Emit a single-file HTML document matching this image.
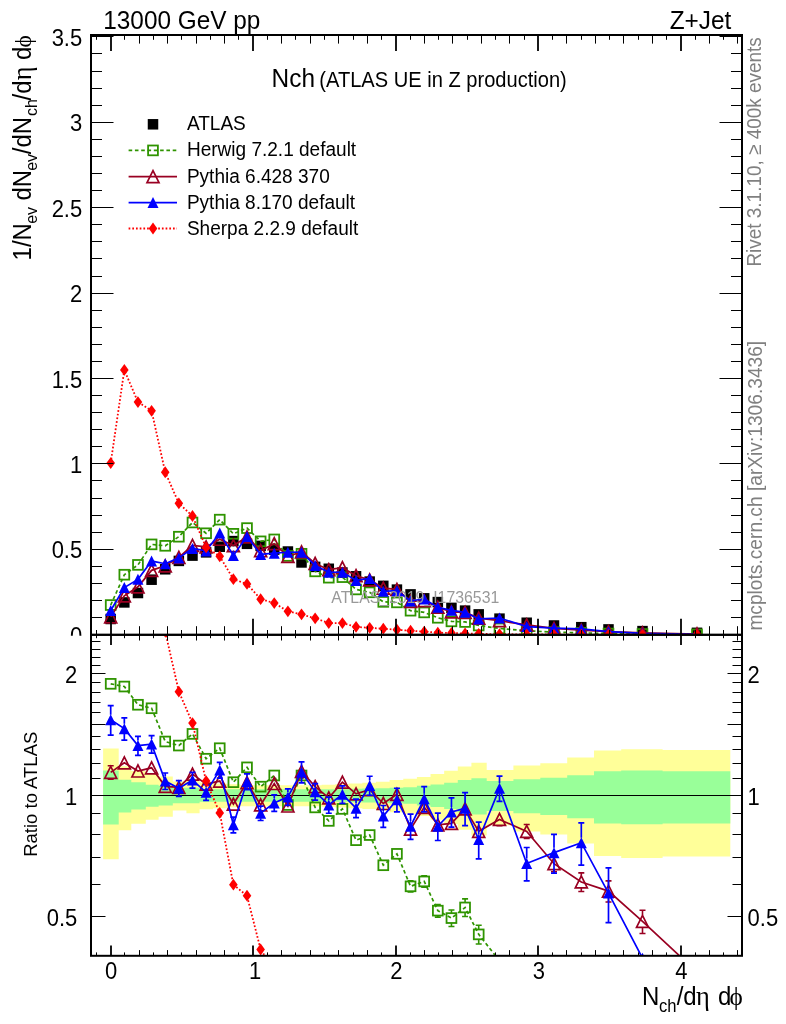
<!DOCTYPE html>
<html><head><meta charset="utf-8"><title>Nch</title>
<style>html,body{margin:0;padding:0;background:#fff}svg{display:block}</style></head>
<body>
<svg width="786" height="1024" viewBox="0 0 786 1024" font-family="Liberation Sans, sans-serif">
<rect width="786" height="1024" fill="#fff"/>
<g style="will-change:transform">
<defs>
<clipPath id="cm"><rect x="91.0" y="35.0" width="651.0" height="600.8"/></clipPath>
<clipPath id="cr"><rect x="91.0" y="634.8" width="651.0" height="321.0"/></clipPath>
<clipPath id="c0"><rect x="0" y="0" width="91.0" height="635.8"/></clipPath>
</defs>
<g clip-path="url(#cm)">
<rect x="105.45" y="613.74" width="10.5" height="10.5" fill="#000"/>
<rect x="119.08" y="597.17" width="10.5" height="10.5" fill="#000"/>
<rect x="132.71" y="587.77" width="10.5" height="10.5" fill="#000"/>
<rect x="146.34" y="574.45" width="10.5" height="10.5" fill="#000"/>
<rect x="159.97" y="564.03" width="10.5" height="10.5" fill="#000"/>
<rect x="173.6" y="555.66" width="10.5" height="10.5" fill="#000"/>
<rect x="187.23" y="550.37" width="10.5" height="10.5" fill="#000"/>
<rect x="200.86" y="547.12" width="10.5" height="10.5" fill="#000"/>
<rect x="214.49" y="541.49" width="10.5" height="10.5" fill="#000"/>
<rect x="228.12" y="535.85" width="10.5" height="10.5" fill="#000"/>
<rect x="241.75" y="538.58" width="10.5" height="10.5" fill="#000"/>
<rect x="255.38" y="540.63" width="10.5" height="10.5" fill="#000"/>
<rect x="269.01" y="544.39" width="10.5" height="10.5" fill="#000"/>
<rect x="282.64" y="546.27" width="10.5" height="10.5" fill="#000"/>
<rect x="296.27" y="557.2" width="10.5" height="10.5" fill="#000"/>
<rect x="309.9" y="561.64" width="10.5" height="10.5" fill="#000"/>
<rect x="323.53" y="563.52" width="10.5" height="10.5" fill="#000"/>
<rect x="337.16" y="567.28" width="10.5" height="10.5" fill="#000"/>
<rect x="350.79" y="571.04" width="10.5" height="10.5" fill="#000"/>
<rect x="364.42" y="576.33" width="10.5" height="10.5" fill="#000"/>
<rect x="378.05" y="580.6" width="10.5" height="10.5" fill="#000"/>
<rect x="391.68" y="584.36" width="10.5" height="10.5" fill="#000"/>
<rect x="405.31" y="589.14" width="10.5" height="10.5" fill="#000"/>
<rect x="418.94" y="593.07" width="10.5" height="10.5" fill="#000"/>
<rect x="432.57" y="596.83" width="10.5" height="10.5" fill="#000"/>
<rect x="446.2" y="602.63" width="10.5" height="10.5" fill="#000"/>
<rect x="459.83" y="605.37" width="10.5" height="10.5" fill="#000"/>
<rect x="473.46" y="609.12" width="10.5" height="10.5" fill="#000"/>
<rect x="494.25" y="613.39" width="10.5" height="10.5" fill="#000"/>
<rect x="521.45" y="617.49" width="10.5" height="10.5" fill="#000"/>
<rect x="548.75" y="620.23" width="10.5" height="10.5" fill="#000"/>
<rect x="576.05" y="621.93" width="10.5" height="10.5" fill="#000"/>
<rect x="603.25" y="624.16" width="10.5" height="10.5" fill="#000"/>
<rect x="637.25" y="625.86" width="10.5" height="10.5" fill="#000"/>
<rect x="691.75" y="627.57" width="10.5" height="10.5" fill="#000"/>
<path d="M110.7 605.05L124.33 574.72L137.96 564.89L151.59 544.39L165.22 545.8L178.85 536.71L192.48 522.48L206.11 533.27L219.74 519.65L233.37 533.8L247 528.11L260.63 541.35L274.26 539.43L287.89 555.93L301.52 553.78L315.15 571.37L328.78 577.67L342.41 577.13L356.04 589.43L369.67 592.31L383.3 601.87L396.93 602.37L410.56 610.68L424.19 612.4L437.82 617.77L451.45 621.36L465.08 621.97L478.71 625.48L499.5 628.44L526.7 630.75L554 632.12L581.3 632.82L608.5 633.54L642.5 633.98L697 634.42" fill="none" stroke="#2f9400" stroke-width="1.7" stroke-dasharray="3.6 2.7"/>
<rect x="105.8" y="600.15" width="9.8" height="9.8" fill="none" stroke="#2f9400" stroke-width="1.8"/>
<rect x="119.43" y="569.82" width="9.8" height="9.8" fill="none" stroke="#2f9400" stroke-width="1.8"/>
<rect x="133.06" y="559.99" width="9.8" height="9.8" fill="none" stroke="#2f9400" stroke-width="1.8"/>
<rect x="146.69" y="539.49" width="9.8" height="9.8" fill="none" stroke="#2f9400" stroke-width="1.8"/>
<rect x="160.32" y="540.9" width="9.8" height="9.8" fill="none" stroke="#2f9400" stroke-width="1.8"/>
<rect x="173.95" y="531.81" width="9.8" height="9.8" fill="none" stroke="#2f9400" stroke-width="1.8"/>
<rect x="187.58" y="517.58" width="9.8" height="9.8" fill="none" stroke="#2f9400" stroke-width="1.8"/>
<rect x="201.21" y="528.37" width="9.8" height="9.8" fill="none" stroke="#2f9400" stroke-width="1.8"/>
<rect x="214.84" y="514.75" width="9.8" height="9.8" fill="none" stroke="#2f9400" stroke-width="1.8"/>
<rect x="228.47" y="528.9" width="9.8" height="9.8" fill="none" stroke="#2f9400" stroke-width="1.8"/>
<rect x="242.1" y="523.21" width="9.8" height="9.8" fill="none" stroke="#2f9400" stroke-width="1.8"/>
<rect x="255.73" y="536.45" width="9.8" height="9.8" fill="none" stroke="#2f9400" stroke-width="1.8"/>
<rect x="269.36" y="534.53" width="9.8" height="9.8" fill="none" stroke="#2f9400" stroke-width="1.8"/>
<rect x="282.99" y="551.03" width="9.8" height="9.8" fill="none" stroke="#2f9400" stroke-width="1.8"/>
<rect x="296.62" y="548.88" width="9.8" height="9.8" fill="none" stroke="#2f9400" stroke-width="1.8"/>
<rect x="310.25" y="566.47" width="9.8" height="9.8" fill="none" stroke="#2f9400" stroke-width="1.8"/>
<rect x="323.88" y="572.77" width="9.8" height="9.8" fill="none" stroke="#2f9400" stroke-width="1.8"/>
<rect x="337.51" y="572.23" width="9.8" height="9.8" fill="none" stroke="#2f9400" stroke-width="1.8"/>
<rect x="351.14" y="584.53" width="9.8" height="9.8" fill="none" stroke="#2f9400" stroke-width="1.8"/>
<rect x="364.77" y="587.41" width="9.8" height="9.8" fill="none" stroke="#2f9400" stroke-width="1.8"/>
<rect x="378.4" y="596.97" width="9.8" height="9.8" fill="none" stroke="#2f9400" stroke-width="1.8"/>
<rect x="392.03" y="597.47" width="9.8" height="9.8" fill="none" stroke="#2f9400" stroke-width="1.8"/>
<rect x="405.66" y="605.78" width="9.8" height="9.8" fill="none" stroke="#2f9400" stroke-width="1.8"/>
<rect x="419.29" y="607.5" width="9.8" height="9.8" fill="none" stroke="#2f9400" stroke-width="1.8"/>
<rect x="432.92" y="612.87" width="9.8" height="9.8" fill="none" stroke="#2f9400" stroke-width="1.8"/>
<rect x="446.55" y="616.46" width="9.8" height="9.8" fill="none" stroke="#2f9400" stroke-width="1.8"/>
<rect x="460.18" y="617.07" width="9.8" height="9.8" fill="none" stroke="#2f9400" stroke-width="1.8"/>
<rect x="473.81" y="620.58" width="9.8" height="9.8" fill="none" stroke="#2f9400" stroke-width="1.8"/>
<rect x="494.6" y="623.54" width="9.8" height="9.8" fill="none" stroke="#2f9400" stroke-width="1.8"/>
<rect x="521.8" y="625.85" width="9.8" height="9.8" fill="none" stroke="#2f9400" stroke-width="1.8"/>
<rect x="549.1" y="627.22" width="9.8" height="9.8" fill="none" stroke="#2f9400" stroke-width="1.8"/>
<rect x="576.4" y="627.92" width="9.8" height="9.8" fill="none" stroke="#2f9400" stroke-width="1.8"/>
<rect x="603.6" y="628.64" width="9.8" height="9.8" fill="none" stroke="#2f9400" stroke-width="1.8"/>
<rect x="637.6" y="629.08" width="9.8" height="9.8" fill="none" stroke="#2f9400" stroke-width="1.8"/>
<rect x="692.1" y="629.52" width="9.8" height="9.8" fill="none" stroke="#2f9400" stroke-width="1.8"/>
<path d="M110.7 616.79L124.33 595.83L137.96 586.82L151.59 570.35L165.22 565.82L178.85 557.45L192.48 545.42L206.11 546.94L219.74 539.26L233.37 545.59L247 536.97L260.63 550.59L274.26 543.69L287.89 556.39L301.52 551.9L315.15 563.43L328.78 569.69L342.41 567.68L356.04 575.76L369.67 579.83L383.3 588.05L396.93 589.34L410.56 601.43L424.19 600.7L437.82 607.12L451.45 611.83L465.08 612.4L478.71 618.13L499.5 620.7L526.7 624.96L554 628.45L581.3 630.11L608.5 631.63L642.5 632.95L697 634.01" fill="none" stroke="#990022" stroke-width="1.7"/>
<path d="M104.7 622.79L116.7 622.79L110.7 610.79Z" fill="none" stroke="#990022" stroke-width="1.7" stroke-linejoin="miter"/>
<path d="M118.33 601.83L130.33 601.83L124.33 589.83Z" fill="none" stroke="#990022" stroke-width="1.7" stroke-linejoin="miter"/>
<path d="M131.96 592.82L143.96 592.82L137.96 580.82Z" fill="none" stroke="#990022" stroke-width="1.7" stroke-linejoin="miter"/>
<path d="M145.59 576.35L157.59 576.35L151.59 564.35Z" fill="none" stroke="#990022" stroke-width="1.7" stroke-linejoin="miter"/>
<path d="M159.22 571.82L171.22 571.82L165.22 559.82Z" fill="none" stroke="#990022" stroke-width="1.7" stroke-linejoin="miter"/>
<path d="M172.85 563.45L184.85 563.45L178.85 551.45Z" fill="none" stroke="#990022" stroke-width="1.7" stroke-linejoin="miter"/>
<path d="M186.48 551.42L198.48 551.42L192.48 539.42Z" fill="none" stroke="#990022" stroke-width="1.7" stroke-linejoin="miter"/>
<path d="M200.11 552.94L212.11 552.94L206.11 540.94Z" fill="none" stroke="#990022" stroke-width="1.7" stroke-linejoin="miter"/>
<path d="M213.74 545.26L225.74 545.26L219.74 533.26Z" fill="none" stroke="#990022" stroke-width="1.7" stroke-linejoin="miter"/>
<path d="M227.37 551.59L239.37 551.59L233.37 539.59Z" fill="none" stroke="#990022" stroke-width="1.7" stroke-linejoin="miter"/>
<path d="M241 542.97L253 542.97L247 530.97Z" fill="none" stroke="#990022" stroke-width="1.7" stroke-linejoin="miter"/>
<path d="M254.63 556.59L266.63 556.59L260.63 544.59Z" fill="none" stroke="#990022" stroke-width="1.7" stroke-linejoin="miter"/>
<path d="M268.26 549.69L280.26 549.69L274.26 537.69Z" fill="none" stroke="#990022" stroke-width="1.7" stroke-linejoin="miter"/>
<path d="M281.89 562.39L293.89 562.39L287.89 550.39Z" fill="none" stroke="#990022" stroke-width="1.7" stroke-linejoin="miter"/>
<path d="M295.52 557.9L307.52 557.9L301.52 545.9Z" fill="none" stroke="#990022" stroke-width="1.7" stroke-linejoin="miter"/>
<path d="M309.15 569.43L321.15 569.43L315.15 557.43Z" fill="none" stroke="#990022" stroke-width="1.7" stroke-linejoin="miter"/>
<path d="M322.78 575.69L334.78 575.69L328.78 563.69Z" fill="none" stroke="#990022" stroke-width="1.7" stroke-linejoin="miter"/>
<path d="M336.41 573.68L348.41 573.68L342.41 561.68Z" fill="none" stroke="#990022" stroke-width="1.7" stroke-linejoin="miter"/>
<path d="M350.04 581.76L362.04 581.76L356.04 569.76Z" fill="none" stroke="#990022" stroke-width="1.7" stroke-linejoin="miter"/>
<path d="M363.67 585.83L375.67 585.83L369.67 573.83Z" fill="none" stroke="#990022" stroke-width="1.7" stroke-linejoin="miter"/>
<path d="M377.3 594.05L389.3 594.05L383.3 582.05Z" fill="none" stroke="#990022" stroke-width="1.7" stroke-linejoin="miter"/>
<path d="M390.93 595.34L402.93 595.34L396.93 583.34Z" fill="none" stroke="#990022" stroke-width="1.7" stroke-linejoin="miter"/>
<path d="M404.56 607.43L416.56 607.43L410.56 595.43Z" fill="none" stroke="#990022" stroke-width="1.7" stroke-linejoin="miter"/>
<path d="M418.19 606.7L430.19 606.7L424.19 594.7Z" fill="none" stroke="#990022" stroke-width="1.7" stroke-linejoin="miter"/>
<path d="M431.82 613.12L443.82 613.12L437.82 601.12Z" fill="none" stroke="#990022" stroke-width="1.7" stroke-linejoin="miter"/>
<path d="M445.45 617.83L457.45 617.83L451.45 605.83Z" fill="none" stroke="#990022" stroke-width="1.7" stroke-linejoin="miter"/>
<path d="M459.08 618.4L471.08 618.4L465.08 606.4Z" fill="none" stroke="#990022" stroke-width="1.7" stroke-linejoin="miter"/>
<path d="M472.71 624.13L484.71 624.13L478.71 612.13Z" fill="none" stroke="#990022" stroke-width="1.7" stroke-linejoin="miter"/>
<path d="M493.5 626.7L505.5 626.7L499.5 614.7Z" fill="none" stroke="#990022" stroke-width="1.7" stroke-linejoin="miter"/>
<path d="M520.7 630.96L532.7 630.96L526.7 618.96Z" fill="none" stroke="#990022" stroke-width="1.7" stroke-linejoin="miter"/>
<path d="M548 634.45L560 634.45L554 622.45Z" fill="none" stroke="#990022" stroke-width="1.7" stroke-linejoin="miter"/>
<path d="M575.3 636.11L587.3 636.11L581.3 624.11Z" fill="none" stroke="#990022" stroke-width="1.7" stroke-linejoin="miter"/>
<path d="M602.5 637.63L614.5 637.63L608.5 625.63Z" fill="none" stroke="#990022" stroke-width="1.7" stroke-linejoin="miter"/>
<path d="M636.5 638.95L648.5 638.95L642.5 626.95Z" fill="none" stroke="#990022" stroke-width="1.7" stroke-linejoin="miter"/>
<path d="M691 640.01L703 640.01L697 628.01Z" fill="none" stroke="#990022" stroke-width="1.7" stroke-linejoin="miter"/>
<path d="M110.7 610.53L124.33 587.5L137.96 579.36L151.59 561.06L165.22 563.72L178.85 557.89L192.48 548.42L206.11 550.89L219.74 533.1L233.37 555.52L247 536.38L260.63 554.41L274.26 553.21L287.89 552.23L301.52 552.19L315.15 565.47L328.78 572.27L342.41 572.16L356.04 580.38L369.67 578.5L383.3 591.27L396.93 590.69L410.56 600.88L424.19 599.01L437.82 607.33L451.45 610.3L465.08 612.33L478.71 618.9L499.5 617.99L526.7 626.58L554 628.04L581.3 628.96L608.5 631.66L642.5 633.28L697 634.23" fill="none" stroke="#0000ff" stroke-width="1.7"/>
<path d="M105.2 616.03L116.2 616.03L110.7 605.03Z" fill="#0000ff"/>
<path d="M118.83 593L129.83 593L124.33 582Z" fill="#0000ff"/>
<path d="M132.46 584.86L143.46 584.86L137.96 573.86Z" fill="#0000ff"/>
<path d="M146.09 566.56L157.09 566.56L151.59 555.56Z" fill="#0000ff"/>
<path d="M159.72 569.22L170.72 569.22L165.22 558.22Z" fill="#0000ff"/>
<path d="M173.35 563.39L184.35 563.39L178.85 552.39Z" fill="#0000ff"/>
<path d="M186.98 553.92L197.98 553.92L192.48 542.92Z" fill="#0000ff"/>
<path d="M200.61 556.39L211.61 556.39L206.11 545.39Z" fill="#0000ff"/>
<path d="M214.24 538.6L225.24 538.6L219.74 527.6Z" fill="#0000ff"/>
<path d="M227.87 561.02L238.87 561.02L233.37 550.02Z" fill="#0000ff"/>
<path d="M241.5 541.88L252.5 541.88L247 530.88Z" fill="#0000ff"/>
<path d="M255.13 559.91L266.13 559.91L260.63 548.91Z" fill="#0000ff"/>
<path d="M268.76 558.71L279.76 558.71L274.26 547.71Z" fill="#0000ff"/>
<path d="M282.39 557.73L293.39 557.73L287.89 546.73Z" fill="#0000ff"/>
<path d="M296.02 557.69L307.02 557.69L301.52 546.69Z" fill="#0000ff"/>
<path d="M309.65 570.97L320.65 570.97L315.15 559.97Z" fill="#0000ff"/>
<path d="M323.28 577.77L334.28 577.77L328.78 566.77Z" fill="#0000ff"/>
<path d="M336.91 577.66L347.91 577.66L342.41 566.66Z" fill="#0000ff"/>
<path d="M350.54 585.88L361.54 585.88L356.04 574.88Z" fill="#0000ff"/>
<path d="M364.17 584L375.17 584L369.67 573Z" fill="#0000ff"/>
<path d="M377.8 596.77L388.8 596.77L383.3 585.77Z" fill="#0000ff"/>
<path d="M391.43 596.19L402.43 596.19L396.93 585.19Z" fill="#0000ff"/>
<path d="M405.06 606.38L416.06 606.38L410.56 595.38Z" fill="#0000ff"/>
<path d="M418.69 604.51L429.69 604.51L424.19 593.51Z" fill="#0000ff"/>
<path d="M432.32 612.83L443.32 612.83L437.82 601.83Z" fill="#0000ff"/>
<path d="M445.95 615.8L456.95 615.8L451.45 604.8Z" fill="#0000ff"/>
<path d="M459.58 617.83L470.58 617.83L465.08 606.83Z" fill="#0000ff"/>
<path d="M473.21 624.4L484.21 624.4L478.71 613.4Z" fill="#0000ff"/>
<path d="M494 623.49L505 623.49L499.5 612.49Z" fill="#0000ff"/>
<path d="M521.2 632.08L532.2 632.08L526.7 621.08Z" fill="#0000ff"/>
<path d="M548.5 633.54L559.5 633.54L554 622.54Z" fill="#0000ff"/>
<path d="M575.8 634.46L586.8 634.46L581.3 623.46Z" fill="#0000ff"/>
<path d="M603 637.16L614 637.16L608.5 626.16Z" fill="#0000ff"/>
<path d="M637 638.78L648 638.78L642.5 627.78Z" fill="#0000ff"/>
<path d="M691.5 639.73L702.5 639.73L697 628.73Z" fill="#0000ff"/>
<path d="M110.7 463.05L124.33 369.96L137.96 402.07L151.59 410.78L165.22 472.27L178.85 503.35L192.48 515.99L206.11 547.42L219.74 556.3L233.37 579.19L247 583.97L260.63 599.17L274.26 603.1L287.89 611.3L301.52 614.37L315.15 618.3L328.78 623.09L342.41 623.09L356.04 626.84L369.67 627.87L383.3 628.72L396.93 629.75L410.56 630.77L424.19 631.63L437.82 632.65L451.45 632.99L465.08 633.5L478.71 633.85L499.5 634.19L526.7 634.36L554 634.53L581.3 634.53L608.5 634.61L642.5 634.61L697 634.65" fill="none" stroke="#ff0000" stroke-width="1.8" stroke-dasharray="1.7 2.0"/>
<path d="M110.7 457.15L115 463.05L110.7 468.95L106.4 463.05Z" fill="#ff0000"/>
<path d="M124.33 364.06L128.63 369.96L124.33 375.86L120.03 369.96Z" fill="#ff0000"/>
<path d="M137.96 396.17L142.26 402.07L137.96 407.97L133.66 402.07Z" fill="#ff0000"/>
<path d="M151.59 404.88L155.89 410.78L151.59 416.68L147.29 410.78Z" fill="#ff0000"/>
<path d="M165.22 466.37L169.52 472.27L165.22 478.17L160.92 472.27Z" fill="#ff0000"/>
<path d="M178.85 497.45L183.15 503.35L178.85 509.25L174.55 503.35Z" fill="#ff0000"/>
<path d="M192.48 510.09L196.78 515.99L192.48 521.89L188.18 515.99Z" fill="#ff0000"/>
<path d="M206.11 541.52L210.41 547.42L206.11 553.32L201.81 547.42Z" fill="#ff0000"/>
<path d="M219.74 550.4L224.04 556.3L219.74 562.2L215.44 556.3Z" fill="#ff0000"/>
<path d="M233.37 573.29L237.67 579.19L233.37 585.09L229.07 579.19Z" fill="#ff0000"/>
<path d="M247 578.07L251.3 583.97L247 589.87L242.7 583.97Z" fill="#ff0000"/>
<path d="M260.63 593.27L264.93 599.17L260.63 605.07L256.33 599.17Z" fill="#ff0000"/>
<path d="M274.26 597.2L278.56 603.1L274.26 609L269.96 603.1Z" fill="#ff0000"/>
<path d="M287.89 605.4L292.19 611.3L287.89 617.2L283.59 611.3Z" fill="#ff0000"/>
<path d="M301.52 608.47L305.82 614.37L301.52 620.27L297.22 614.37Z" fill="#ff0000"/>
<path d="M315.15 612.4L319.45 618.3L315.15 624.2L310.85 618.3Z" fill="#ff0000"/>
<path d="M328.78 617.19L333.08 623.09L328.78 628.99L324.48 623.09Z" fill="#ff0000"/>
<path d="M342.41 617.19L346.71 623.09L342.41 628.99L338.11 623.09Z" fill="#ff0000"/>
<path d="M356.04 620.94L360.34 626.84L356.04 632.74L351.74 626.84Z" fill="#ff0000"/>
<path d="M369.67 621.97L373.97 627.87L369.67 633.77L365.37 627.87Z" fill="#ff0000"/>
<path d="M383.3 622.82L387.6 628.72L383.3 634.62L379 628.72Z" fill="#ff0000"/>
<path d="M396.93 623.85L401.23 629.75L396.93 635.65L392.63 629.75Z" fill="#ff0000"/>
<path d="M410.56 624.87L414.86 630.77L410.56 636.67L406.26 630.77Z" fill="#ff0000"/>
<path d="M424.19 625.73L428.49 631.63L424.19 637.53L419.89 631.63Z" fill="#ff0000"/>
<path d="M437.82 626.75L442.12 632.65L437.82 638.55L433.52 632.65Z" fill="#ff0000"/>
<path d="M451.45 627.09L455.75 632.99L451.45 638.89L447.15 632.99Z" fill="#ff0000"/>
<path d="M465.08 627.6L469.38 633.5L465.08 639.4L460.78 633.5Z" fill="#ff0000"/>
<path d="M478.71 627.95L483.01 633.85L478.71 639.75L474.41 633.85Z" fill="#ff0000"/>
<path d="M499.5 628.29L503.8 634.19L499.5 640.09L495.2 634.19Z" fill="#ff0000"/>
<path d="M526.7 628.46L531 634.36L526.7 640.26L522.4 634.36Z" fill="#ff0000"/>
<path d="M554 628.63L558.3 634.53L554 640.43L549.7 634.53Z" fill="#ff0000"/>
<path d="M581.3 628.63L585.6 634.53L581.3 640.43L577 634.53Z" fill="#ff0000"/>
<path d="M608.5 628.71L612.8 634.61L608.5 640.51L604.2 634.61Z" fill="#ff0000"/>
<path d="M642.5 628.71L646.8 634.61L642.5 640.51L638.2 634.61Z" fill="#ff0000"/>
<path d="M697 628.75L701.3 634.65L697 640.55L692.7 634.65Z" fill="#ff0000"/>
</g>
<text transform="translate(331.3 603.2) scale(1 1.06)" font-size="15.85" fill="#999">ATLAS_2019_I1736531</text>
<path d="M91 634.5L113.5 634.5" stroke="#000" stroke-width="1" fill="none"/>
<path d="M742 634.5L719.5 634.5" stroke="#000" stroke-width="1" fill="none"/>
<path d="M91 617.5L102 617.5" stroke="#000" stroke-width="1" fill="none"/>
<path d="M742 617.5L731 617.5" stroke="#000" stroke-width="1" fill="none"/>
<path d="M91 600.5L102 600.5" stroke="#000" stroke-width="1" fill="none"/>
<path d="M742 600.5L731 600.5" stroke="#000" stroke-width="1" fill="none"/>
<path d="M91 583.5L102 583.5" stroke="#000" stroke-width="1" fill="none"/>
<path d="M742 583.5L731 583.5" stroke="#000" stroke-width="1" fill="none"/>
<path d="M91 566.5L102 566.5" stroke="#000" stroke-width="1" fill="none"/>
<path d="M742 566.5L731 566.5" stroke="#000" stroke-width="1" fill="none"/>
<path d="M91 549.5L113.5 549.5" stroke="#000" stroke-width="1" fill="none"/>
<path d="M742 549.5L719.5 549.5" stroke="#000" stroke-width="1" fill="none"/>
<path d="M91 532.5L102 532.5" stroke="#000" stroke-width="1" fill="none"/>
<path d="M742 532.5L731 532.5" stroke="#000" stroke-width="1" fill="none"/>
<path d="M91 515.5L102 515.5" stroke="#000" stroke-width="1" fill="none"/>
<path d="M742 515.5L731 515.5" stroke="#000" stroke-width="1" fill="none"/>
<path d="M91 498.5L102 498.5" stroke="#000" stroke-width="1" fill="none"/>
<path d="M742 498.5L731 498.5" stroke="#000" stroke-width="1" fill="none"/>
<path d="M91 480.5L102 480.5" stroke="#000" stroke-width="1" fill="none"/>
<path d="M742 480.5L731 480.5" stroke="#000" stroke-width="1" fill="none"/>
<path d="M91 463.5L113.5 463.5" stroke="#000" stroke-width="1" fill="none"/>
<path d="M742 463.5L719.5 463.5" stroke="#000" stroke-width="1" fill="none"/>
<path d="M91 446.5L102 446.5" stroke="#000" stroke-width="1" fill="none"/>
<path d="M742 446.5L731 446.5" stroke="#000" stroke-width="1" fill="none"/>
<path d="M91 429.5L102 429.5" stroke="#000" stroke-width="1" fill="none"/>
<path d="M742 429.5L731 429.5" stroke="#000" stroke-width="1" fill="none"/>
<path d="M91 412.5L102 412.5" stroke="#000" stroke-width="1" fill="none"/>
<path d="M742 412.5L731 412.5" stroke="#000" stroke-width="1" fill="none"/>
<path d="M91 395.5L102 395.5" stroke="#000" stroke-width="1" fill="none"/>
<path d="M742 395.5L731 395.5" stroke="#000" stroke-width="1" fill="none"/>
<path d="M91 378.5L113.5 378.5" stroke="#000" stroke-width="1" fill="none"/>
<path d="M742 378.5L719.5 378.5" stroke="#000" stroke-width="1" fill="none"/>
<path d="M91 361.5L102 361.5" stroke="#000" stroke-width="1" fill="none"/>
<path d="M742 361.5L731 361.5" stroke="#000" stroke-width="1" fill="none"/>
<path d="M91 344.5L102 344.5" stroke="#000" stroke-width="1" fill="none"/>
<path d="M742 344.5L731 344.5" stroke="#000" stroke-width="1" fill="none"/>
<path d="M91 327.5L102 327.5" stroke="#000" stroke-width="1" fill="none"/>
<path d="M742 327.5L731 327.5" stroke="#000" stroke-width="1" fill="none"/>
<path d="M91 310.5L102 310.5" stroke="#000" stroke-width="1" fill="none"/>
<path d="M742 310.5L731 310.5" stroke="#000" stroke-width="1" fill="none"/>
<path d="M91 293.5L113.5 293.5" stroke="#000" stroke-width="1" fill="none"/>
<path d="M742 293.5L719.5 293.5" stroke="#000" stroke-width="1" fill="none"/>
<path d="M91 276.5L102 276.5" stroke="#000" stroke-width="1" fill="none"/>
<path d="M742 276.5L731 276.5" stroke="#000" stroke-width="1" fill="none"/>
<path d="M91 258.5L102 258.5" stroke="#000" stroke-width="1" fill="none"/>
<path d="M742 258.5L731 258.5" stroke="#000" stroke-width="1" fill="none"/>
<path d="M91 241.5L102 241.5" stroke="#000" stroke-width="1" fill="none"/>
<path d="M742 241.5L731 241.5" stroke="#000" stroke-width="1" fill="none"/>
<path d="M91 224.5L102 224.5" stroke="#000" stroke-width="1" fill="none"/>
<path d="M742 224.5L731 224.5" stroke="#000" stroke-width="1" fill="none"/>
<path d="M91 207.5L113.5 207.5" stroke="#000" stroke-width="1" fill="none"/>
<path d="M742 207.5L719.5 207.5" stroke="#000" stroke-width="1" fill="none"/>
<path d="M91 190.5L102 190.5" stroke="#000" stroke-width="1" fill="none"/>
<path d="M742 190.5L731 190.5" stroke="#000" stroke-width="1" fill="none"/>
<path d="M91 173.5L102 173.5" stroke="#000" stroke-width="1" fill="none"/>
<path d="M742 173.5L731 173.5" stroke="#000" stroke-width="1" fill="none"/>
<path d="M91 156.5L102 156.5" stroke="#000" stroke-width="1" fill="none"/>
<path d="M742 156.5L731 156.5" stroke="#000" stroke-width="1" fill="none"/>
<path d="M91 139.5L102 139.5" stroke="#000" stroke-width="1" fill="none"/>
<path d="M742 139.5L731 139.5" stroke="#000" stroke-width="1" fill="none"/>
<path d="M91 122.5L113.5 122.5" stroke="#000" stroke-width="1" fill="none"/>
<path d="M742 122.5L719.5 122.5" stroke="#000" stroke-width="1" fill="none"/>
<path d="M91 105.5L102 105.5" stroke="#000" stroke-width="1" fill="none"/>
<path d="M742 105.5L731 105.5" stroke="#000" stroke-width="1" fill="none"/>
<path d="M91 88.5L102 88.5" stroke="#000" stroke-width="1" fill="none"/>
<path d="M742 88.5L731 88.5" stroke="#000" stroke-width="1" fill="none"/>
<path d="M91 71.5L102 71.5" stroke="#000" stroke-width="1" fill="none"/>
<path d="M742 71.5L731 71.5" stroke="#000" stroke-width="1" fill="none"/>
<path d="M91 53.5L102 53.5" stroke="#000" stroke-width="1" fill="none"/>
<path d="M742 53.5L731 53.5" stroke="#000" stroke-width="1" fill="none"/>
<path d="M91 36.5L113.5 36.5" stroke="#000" stroke-width="1" fill="none"/>
<path d="M742 36.5L719.5 36.5" stroke="#000" stroke-width="1" fill="none"/>
<path d="M96.5 35L96.5 39.8" stroke="#000" stroke-width="1" fill="none"/>
<path d="M96.5 634.8L96.5 630" stroke="#000" stroke-width="1" fill="none"/>
<path d="M111 35L111 51" stroke="#000" stroke-width="1.8" fill="none"/>
<path d="M111 634.8L111 618.8" stroke="#000" stroke-width="1.8" fill="none"/>
<path d="M124.5 35L124.5 39.8" stroke="#000" stroke-width="1" fill="none"/>
<path d="M124.5 634.8L124.5 630" stroke="#000" stroke-width="1" fill="none"/>
<path d="M139.5 35L139.5 43.6" stroke="#000" stroke-width="1" fill="none"/>
<path d="M139.5 634.8L139.5 626.2" stroke="#000" stroke-width="1" fill="none"/>
<path d="M153.5 35L153.5 39.8" stroke="#000" stroke-width="1" fill="none"/>
<path d="M153.5 634.8L153.5 630" stroke="#000" stroke-width="1" fill="none"/>
<path d="M167.5 35L167.5 43.6" stroke="#000" stroke-width="1" fill="none"/>
<path d="M167.5 634.8L167.5 626.2" stroke="#000" stroke-width="1" fill="none"/>
<path d="M181.5 35L181.5 39.8" stroke="#000" stroke-width="1" fill="none"/>
<path d="M181.5 634.8L181.5 630" stroke="#000" stroke-width="1" fill="none"/>
<path d="M196.5 35L196.5 43.6" stroke="#000" stroke-width="1" fill="none"/>
<path d="M196.5 634.8L196.5 626.2" stroke="#000" stroke-width="1" fill="none"/>
<path d="M210.5 35L210.5 39.8" stroke="#000" stroke-width="1" fill="none"/>
<path d="M210.5 634.8L210.5 630" stroke="#000" stroke-width="1" fill="none"/>
<path d="M224.5 35L224.5 43.6" stroke="#000" stroke-width="1" fill="none"/>
<path d="M224.5 634.8L224.5 626.2" stroke="#000" stroke-width="1" fill="none"/>
<path d="M238.5 35L238.5 39.8" stroke="#000" stroke-width="1" fill="none"/>
<path d="M238.5 634.8L238.5 630" stroke="#000" stroke-width="1" fill="none"/>
<path d="M253 35L253 51" stroke="#000" stroke-width="1.8" fill="none"/>
<path d="M253 634.8L253 618.8" stroke="#000" stroke-width="1.8" fill="none"/>
<path d="M267.5 35L267.5 39.8" stroke="#000" stroke-width="1" fill="none"/>
<path d="M267.5 634.8L267.5 630" stroke="#000" stroke-width="1" fill="none"/>
<path d="M281.5 35L281.5 43.6" stroke="#000" stroke-width="1" fill="none"/>
<path d="M281.5 634.8L281.5 626.2" stroke="#000" stroke-width="1" fill="none"/>
<path d="M295.5 35L295.5 39.8" stroke="#000" stroke-width="1" fill="none"/>
<path d="M295.5 634.8L295.5 630" stroke="#000" stroke-width="1" fill="none"/>
<path d="M310.5 35L310.5 43.6" stroke="#000" stroke-width="1" fill="none"/>
<path d="M310.5 634.8L310.5 626.2" stroke="#000" stroke-width="1" fill="none"/>
<path d="M324.5 35L324.5 39.8" stroke="#000" stroke-width="1" fill="none"/>
<path d="M324.5 634.8L324.5 630" stroke="#000" stroke-width="1" fill="none"/>
<path d="M338.5 35L338.5 43.6" stroke="#000" stroke-width="1" fill="none"/>
<path d="M338.5 634.8L338.5 626.2" stroke="#000" stroke-width="1" fill="none"/>
<path d="M353.5 35L353.5 39.8" stroke="#000" stroke-width="1" fill="none"/>
<path d="M353.5 634.8L353.5 630" stroke="#000" stroke-width="1" fill="none"/>
<path d="M367.5 35L367.5 43.6" stroke="#000" stroke-width="1" fill="none"/>
<path d="M367.5 634.8L367.5 626.2" stroke="#000" stroke-width="1" fill="none"/>
<path d="M381.5 35L381.5 39.8" stroke="#000" stroke-width="1" fill="none"/>
<path d="M381.5 634.8L381.5 630" stroke="#000" stroke-width="1" fill="none"/>
<path d="M396 35L396 51" stroke="#000" stroke-width="1.8" fill="none"/>
<path d="M396 634.8L396 618.8" stroke="#000" stroke-width="1.8" fill="none"/>
<path d="M410.5 35L410.5 39.8" stroke="#000" stroke-width="1" fill="none"/>
<path d="M410.5 634.8L410.5 630" stroke="#000" stroke-width="1" fill="none"/>
<path d="M424.5 35L424.5 43.6" stroke="#000" stroke-width="1" fill="none"/>
<path d="M424.5 634.8L424.5 626.2" stroke="#000" stroke-width="1" fill="none"/>
<path d="M438.5 35L438.5 39.8" stroke="#000" stroke-width="1" fill="none"/>
<path d="M438.5 634.8L438.5 630" stroke="#000" stroke-width="1" fill="none"/>
<path d="M452.5 35L452.5 43.6" stroke="#000" stroke-width="1" fill="none"/>
<path d="M452.5 634.8L452.5 626.2" stroke="#000" stroke-width="1" fill="none"/>
<path d="M467.5 35L467.5 39.8" stroke="#000" stroke-width="1" fill="none"/>
<path d="M467.5 634.8L467.5 630" stroke="#000" stroke-width="1" fill="none"/>
<path d="M481.5 35L481.5 43.6" stroke="#000" stroke-width="1" fill="none"/>
<path d="M481.5 634.8L481.5 626.2" stroke="#000" stroke-width="1" fill="none"/>
<path d="M495.5 35L495.5 39.8" stroke="#000" stroke-width="1" fill="none"/>
<path d="M495.5 634.8L495.5 630" stroke="#000" stroke-width="1" fill="none"/>
<path d="M509.5 35L509.5 43.6" stroke="#000" stroke-width="1" fill="none"/>
<path d="M509.5 634.8L509.5 626.2" stroke="#000" stroke-width="1" fill="none"/>
<path d="M524.5 35L524.5 39.8" stroke="#000" stroke-width="1" fill="none"/>
<path d="M524.5 634.8L524.5 630" stroke="#000" stroke-width="1" fill="none"/>
<path d="M538 35L538 51" stroke="#000" stroke-width="1.8" fill="none"/>
<path d="M538 634.8L538 618.8" stroke="#000" stroke-width="1.8" fill="none"/>
<path d="M552.5 35L552.5 39.8" stroke="#000" stroke-width="1" fill="none"/>
<path d="M552.5 634.8L552.5 630" stroke="#000" stroke-width="1" fill="none"/>
<path d="M566.5 35L566.5 43.6" stroke="#000" stroke-width="1" fill="none"/>
<path d="M566.5 634.8L566.5 626.2" stroke="#000" stroke-width="1" fill="none"/>
<path d="M581.5 35L581.5 39.8" stroke="#000" stroke-width="1" fill="none"/>
<path d="M581.5 634.8L581.5 630" stroke="#000" stroke-width="1" fill="none"/>
<path d="M595.5 35L595.5 43.6" stroke="#000" stroke-width="1" fill="none"/>
<path d="M595.5 634.8L595.5 626.2" stroke="#000" stroke-width="1" fill="none"/>
<path d="M609.5 35L609.5 39.8" stroke="#000" stroke-width="1" fill="none"/>
<path d="M609.5 634.8L609.5 630" stroke="#000" stroke-width="1" fill="none"/>
<path d="M623.5 35L623.5 43.6" stroke="#000" stroke-width="1" fill="none"/>
<path d="M623.5 634.8L623.5 626.2" stroke="#000" stroke-width="1" fill="none"/>
<path d="M638.5 35L638.5 39.8" stroke="#000" stroke-width="1" fill="none"/>
<path d="M638.5 634.8L638.5 630" stroke="#000" stroke-width="1" fill="none"/>
<path d="M652.5 35L652.5 43.6" stroke="#000" stroke-width="1" fill="none"/>
<path d="M652.5 634.8L652.5 626.2" stroke="#000" stroke-width="1" fill="none"/>
<path d="M666.5 35L666.5 39.8" stroke="#000" stroke-width="1" fill="none"/>
<path d="M666.5 634.8L666.5 630" stroke="#000" stroke-width="1" fill="none"/>
<path d="M681 35L681 51" stroke="#000" stroke-width="1.8" fill="none"/>
<path d="M681 634.8L681 618.8" stroke="#000" stroke-width="1.8" fill="none"/>
<path d="M695.5 35L695.5 39.8" stroke="#000" stroke-width="1" fill="none"/>
<path d="M695.5 634.8L695.5 630" stroke="#000" stroke-width="1" fill="none"/>
<path d="M709.5 35L709.5 43.6" stroke="#000" stroke-width="1" fill="none"/>
<path d="M709.5 634.8L709.5 626.2" stroke="#000" stroke-width="1" fill="none"/>
<path d="M723.5 35L723.5 39.8" stroke="#000" stroke-width="1" fill="none"/>
<path d="M723.5 634.8L723.5 630" stroke="#000" stroke-width="1" fill="none"/>
<path d="M737.5 35L737.5 43.6" stroke="#000" stroke-width="1" fill="none"/>
<path d="M737.5 634.8L737.5 626.2" stroke="#000" stroke-width="1" fill="none"/>
<rect x="0" y="635.8" width="786" height="388.20000000000005" fill="#fff"/>
<g clip-path="url(#cr)">
<path d="M103.1 748.62L118.7 748.62L118.7 766.32L131.3 766.32L131.3 770.99L145.8 770.99L145.8 774.08L158.6 774.08L158.6 776.43L172.8 776.43L172.8 781.55L186.4 781.55L186.4 779.13L199.6 779.13L199.6 782.61L213.1 782.61L213.1 783.51L226.77 783.51L226.77 784.33L240.32 784.33L240.32 785.16L253.87 785.16L253.87 785.16L267.43 785.16L267.43 785.16L280.98 785.16L280.98 785.16L294.53 785.16L294.53 785.16L308.08 785.16L308.08 785.16L321.64 785.16L321.64 784.66L335.19 784.66L335.19 784.17L348.74 784.17L348.74 783.51L362.37 783.51L362.37 782.69L376 782.69L376 781.71L389.63 781.71L389.63 780.1L403.26 780.1L403.26 778.81L416.89 778.81L416.89 776.9L430.52 776.9L430.52 774.08L444.15 774.08L444.15 770.84L457.78 770.84L457.78 766.61L471.41 766.61L471.41 762.78L486.7 762.78L486.7 769.93L513.4 769.93L513.4 765.42L540.3 765.42L540.3 763.36L567.2 763.36L567.2 757.6L594 757.6L594 750.38L621.2 750.38L621.2 749.3L662.6 749.3L662.6 750.11L730.3 750.11L730.3 856.58L662.6 856.58L662.6 858.08L621.2 858.08L621.2 856.08L594 856.08L594 843.62L567.2 843.62L567.2 834.61L540.3 834.61L540.3 831.56L513.4 831.56L513.4 825.2L486.7 825.2L486.7 835.49L471.41 835.49L471.41 829.84L457.78 829.84L457.78 823.96L444.15 823.96L444.15 819.67L430.52 819.67L430.52 816.07L416.89 816.07L416.89 813.72L403.26 813.72L403.26 812.17L389.63 812.17L389.63 810.24L376 810.24L376 809.1L362.37 809.1L362.37 808.15L348.74 808.15L348.74 807.4L335.19 807.4L335.19 806.83L321.64 806.83L321.64 806.27L308.08 806.27L308.08 806.27L294.53 806.27L294.53 806.27L280.98 806.27L280.98 806.27L267.43 806.27L267.43 806.27L253.87 806.27L253.87 806.27L240.32 806.27L240.32 807.21L226.77 807.21L226.77 808.15L213.1 808.15L213.1 809.19L199.6 809.19L199.6 813.33L186.4 813.33L186.4 810.43L172.8 810.43L172.8 816.67L158.6 816.67L158.6 819.67L145.8 819.67L145.8 823.75L131.3 823.75L131.3 830.27L118.7 830.27L118.7 859.33L103.1 859.33Z" fill="#ffff99"/>
<path d="M103.1 770.38L118.7 770.38L118.7 779.77L131.3 779.77L131.3 782.27L145.8 782.27L145.8 784.66L158.6 784.66L158.6 785.83L172.8 785.83L172.8 787.83L186.4 787.83L186.4 787.83L199.6 787.83L199.6 789.19L213.1 789.19L213.1 789.35L226.77 789.35L226.77 789.35L240.32 789.35L240.32 789.35L253.87 789.35L253.87 789.35L267.43 789.35L267.43 789.35L280.98 789.35L280.98 789.35L294.53 789.35L294.53 789.35L308.08 789.35L308.08 789.35L321.64 789.35L321.64 789.35L335.19 789.35L335.19 789.35L348.74 789.35L348.74 788.85L362.37 788.85L362.37 788.51L376 788.51L376 788.17L389.63 788.17L389.63 787.83L403.26 787.83L403.26 787.33L416.89 787.33L416.89 785.83L430.52 785.83L430.52 784.5L444.15 784.5L444.15 782.69L457.78 782.69L457.78 780.1L471.41 780.1L471.41 778.17L486.7 778.17L486.7 781.06L513.4 781.06L513.4 779.13L540.3 779.13L540.3 777.86L567.2 777.86L567.2 775.17L594 775.17L594 771.15L621.2 771.15L621.2 770.54L662.6 770.54L662.6 771.15L730.3 771.15L730.3 823.54L662.6 823.54L662.6 824.37L621.2 824.37L621.2 823.54L594 823.54L594 818.26L567.2 818.26L567.2 814.89L540.3 814.89L540.3 813.33L513.4 813.33L513.4 811.01L486.7 811.01L486.7 814.5L471.41 814.5L471.41 812.17L457.78 812.17L457.78 809.1L444.15 809.1L444.15 807.02L430.52 807.02L430.52 805.53L416.89 805.53L416.89 803.86L403.26 803.86L403.26 803.31L389.63 803.31L389.63 802.94L376 802.94L376 802.57L362.37 802.57L362.37 802.21L348.74 802.21L348.74 801.66L335.19 801.66L335.19 801.66L321.64 801.66L321.64 801.66L308.08 801.66L308.08 801.66L294.53 801.66L294.53 801.66L280.98 801.66L280.98 801.66L267.43 801.66L267.43 801.66L253.87 801.66L253.87 801.66L240.32 801.66L240.32 801.66L226.77 801.66L226.77 801.66L213.1 801.66L213.1 801.84L199.6 801.84L199.6 803.31L186.4 803.31L186.4 803.31L172.8 803.31L172.8 805.53L158.6 805.53L158.6 806.83L145.8 806.83L145.8 809.59L131.3 809.59L131.3 812.55L118.7 812.55L118.7 824.58L103.1 824.58Z" fill="#99ff99"/>
<path d="M91 795.5L742 795.5" stroke="#000" stroke-width="1" fill="none"/>
<path d="M110.7 683.82L124.33 686.54L137.96 704.76L151.59 708.26L165.22 741.5L178.85 745.55L192.48 733.91L206.11 758.74L219.74 748.22L233.37 782.2L247 767.36L260.63 786.66L274.26 775.49L287.89 804.97L301.52 775.49L315.15 807.4L328.78 820.88L342.41 808.91L356.04 840.19L369.67 835.05L383.3 865.25L396.93 853.86L410.56 886.34L424.19 881.4L437.82 910.65L451.45 918.08L465.08 907.46L478.71 934.39L499.5 960.86L526.7 990.21L554 1019.09L581.3 1039L608.5 1061.46L642.5 1078.21L697 1128.76" fill="none" stroke="#2f9400" stroke-width="1.7" stroke-dasharray="3.6 2.7"/>

<rect x="105.8" y="678.92" width="9.8" height="9.8" fill="none" stroke="#2f9400" stroke-width="1.8"/>

<rect x="119.43" y="681.64" width="9.8" height="9.8" fill="none" stroke="#2f9400" stroke-width="1.8"/>

<rect x="133.06" y="699.86" width="9.8" height="9.8" fill="none" stroke="#2f9400" stroke-width="1.8"/>

<rect x="146.69" y="703.36" width="9.8" height="9.8" fill="none" stroke="#2f9400" stroke-width="1.8"/>

<rect x="160.32" y="736.6" width="9.8" height="9.8" fill="none" stroke="#2f9400" stroke-width="1.8"/>

<rect x="173.95" y="740.65" width="9.8" height="9.8" fill="none" stroke="#2f9400" stroke-width="1.8"/>

<rect x="187.58" y="729.01" width="9.8" height="9.8" fill="none" stroke="#2f9400" stroke-width="1.8"/>

<rect x="201.21" y="753.84" width="9.8" height="9.8" fill="none" stroke="#2f9400" stroke-width="1.8"/>

<rect x="214.84" y="743.32" width="9.8" height="9.8" fill="none" stroke="#2f9400" stroke-width="1.8"/>

<rect x="228.47" y="777.3" width="9.8" height="9.8" fill="none" stroke="#2f9400" stroke-width="1.8"/>

<rect x="242.1" y="762.46" width="9.8" height="9.8" fill="none" stroke="#2f9400" stroke-width="1.8"/>

<rect x="255.73" y="781.76" width="9.8" height="9.8" fill="none" stroke="#2f9400" stroke-width="1.8"/>

<rect x="269.36" y="770.59" width="9.8" height="9.8" fill="none" stroke="#2f9400" stroke-width="1.8"/>

<rect x="282.99" y="800.07" width="9.8" height="9.8" fill="none" stroke="#2f9400" stroke-width="1.8"/>

<rect x="296.62" y="770.59" width="9.8" height="9.8" fill="none" stroke="#2f9400" stroke-width="1.8"/>

<rect x="310.25" y="802.5" width="9.8" height="9.8" fill="none" stroke="#2f9400" stroke-width="1.8"/>

<rect x="323.88" y="815.98" width="9.8" height="9.8" fill="none" stroke="#2f9400" stroke-width="1.8"/>

<rect x="337.51" y="804.01" width="9.8" height="9.8" fill="none" stroke="#2f9400" stroke-width="1.8"/>

<rect x="351.14" y="835.29" width="9.8" height="9.8" fill="none" stroke="#2f9400" stroke-width="1.8"/>

<rect x="364.77" y="830.15" width="9.8" height="9.8" fill="none" stroke="#2f9400" stroke-width="1.8"/>

<rect x="378.4" y="860.35" width="9.8" height="9.8" fill="none" stroke="#2f9400" stroke-width="1.8"/>

<rect x="392.03" y="848.96" width="9.8" height="9.8" fill="none" stroke="#2f9400" stroke-width="1.8"/>
<path d="M410.56 881.34V880.8M407.56 880.8H413.56M410.56 891.34V892.05M407.56 892.05H413.56" fill="none" stroke="#2f9400" stroke-width="1.6"/>
<rect x="405.66" y="881.44" width="9.8" height="9.8" fill="none" stroke="#2f9400" stroke-width="1.8"/>
<path d="M424.19 876.4V875.69M421.19 875.69H427.19M424.19 886.4V887.29M421.19 887.29H427.19" fill="none" stroke="#2f9400" stroke-width="1.6"/>
<rect x="419.29" y="876.5" width="9.8" height="9.8" fill="none" stroke="#2f9400" stroke-width="1.8"/>
<path d="M437.82 905.65V904.43M434.82 904.43H440.82M437.82 915.65V917.09M434.82 917.09H440.82" fill="none" stroke="#2f9400" stroke-width="1.6"/>
<rect x="432.92" y="905.75" width="9.8" height="9.8" fill="none" stroke="#2f9400" stroke-width="1.8"/>
<path d="M451.45 913.08V910.01M448.45 910.01H454.45M451.45 923.08V926.54M448.45 926.54H454.45" fill="none" stroke="#2f9400" stroke-width="1.6"/>
<rect x="446.55" y="913.18" width="9.8" height="9.8" fill="none" stroke="#2f9400" stroke-width="1.8"/>
<path d="M465.08 902.46V898.89M462.08 898.89H468.08M465.08 912.46V916.47M462.08 916.47H468.08" fill="none" stroke="#2f9400" stroke-width="1.6"/>
<rect x="460.18" y="902.56" width="9.8" height="9.8" fill="none" stroke="#2f9400" stroke-width="1.8"/>
<path d="M478.71 929.39V925.32M475.71 925.32H481.71M478.71 939.39V943.96M475.71 943.96H481.71" fill="none" stroke="#2f9400" stroke-width="1.6"/>
<rect x="473.81" y="929.49" width="9.8" height="9.8" fill="none" stroke="#2f9400" stroke-width="1.8"/>

<rect x="494.6" y="955.96" width="9.8" height="9.8" fill="none" stroke="#2f9400" stroke-width="1.8"/>

<rect x="521.8" y="985.31" width="9.8" height="9.8" fill="none" stroke="#2f9400" stroke-width="1.8"/>

<rect x="549.1" y="1014.19" width="9.8" height="9.8" fill="none" stroke="#2f9400" stroke-width="1.8"/>

<rect x="576.4" y="1034.1" width="9.8" height="9.8" fill="none" stroke="#2f9400" stroke-width="1.8"/>

<rect x="603.6" y="1056.56" width="9.8" height="9.8" fill="none" stroke="#2f9400" stroke-width="1.8"/>

<rect x="637.6" y="1073.31" width="9.8" height="9.8" fill="none" stroke="#2f9400" stroke-width="1.8"/>

<rect x="692.1" y="1123.86" width="9.8" height="9.8" fill="none" stroke="#2f9400" stroke-width="1.8"/>
<path d="M110.7 772.38L124.33 762.78L137.96 770.99L151.59 767.81L165.22 786.33L178.85 787.33L192.48 774.08L206.11 784.17L219.74 781.06L233.37 804.04L247 782.61L260.63 804.97L274.26 783.51L287.89 805.99L301.52 771.45L315.15 786.66L328.78 797.88L342.41 782.2L356.04 793.83L369.67 789.69L383.3 803.49L396.93 794.35L410.56 829.1L424.19 807.3L437.82 824.89L451.45 823.34L465.08 808.91L478.71 831.35L499.5 819.47L526.7 831.35L554 863.69L581.3 881.97L608.5 891.12L642.5 921.47L697 972.02" fill="none" stroke="#990022" stroke-width="1.7"/>
<path d="M110.7 766.28V765.82M107.7 765.82H113.7M110.7 778.48V779.18M107.7 779.18H113.7" fill="none" stroke="#990022" stroke-width="1.6"/>
<path d="M104.7 778.38L116.7 778.38L110.7 766.38Z" fill="none" stroke="#990022" stroke-width="1.7" stroke-linejoin="miter"/>

<path d="M118.33 768.78L130.33 768.78L124.33 756.78Z" fill="none" stroke="#990022" stroke-width="1.7" stroke-linejoin="miter"/>

<path d="M131.96 776.99L143.96 776.99L137.96 764.99Z" fill="none" stroke="#990022" stroke-width="1.7" stroke-linejoin="miter"/>

<path d="M145.59 773.81L157.59 773.81L151.59 761.81Z" fill="none" stroke="#990022" stroke-width="1.7" stroke-linejoin="miter"/>

<path d="M159.22 792.33L171.22 792.33L165.22 780.33Z" fill="none" stroke="#990022" stroke-width="1.7" stroke-linejoin="miter"/>

<path d="M172.85 793.33L184.85 793.33L178.85 781.33Z" fill="none" stroke="#990022" stroke-width="1.7" stroke-linejoin="miter"/>

<path d="M186.48 780.08L198.48 780.08L192.48 768.08Z" fill="none" stroke="#990022" stroke-width="1.7" stroke-linejoin="miter"/>

<path d="M200.11 790.17L212.11 790.17L206.11 778.17Z" fill="none" stroke="#990022" stroke-width="1.7" stroke-linejoin="miter"/>

<path d="M213.74 787.06L225.74 787.06L219.74 775.06Z" fill="none" stroke="#990022" stroke-width="1.7" stroke-linejoin="miter"/>

<path d="M227.37 810.04L239.37 810.04L233.37 798.04Z" fill="none" stroke="#990022" stroke-width="1.7" stroke-linejoin="miter"/>

<path d="M241 788.61L253 788.61L247 776.61Z" fill="none" stroke="#990022" stroke-width="1.7" stroke-linejoin="miter"/>

<path d="M254.63 810.97L266.63 810.97L260.63 798.97Z" fill="none" stroke="#990022" stroke-width="1.7" stroke-linejoin="miter"/>

<path d="M268.26 789.51L280.26 789.51L274.26 777.51Z" fill="none" stroke="#990022" stroke-width="1.7" stroke-linejoin="miter"/>

<path d="M281.89 811.99L293.89 811.99L287.89 799.99Z" fill="none" stroke="#990022" stroke-width="1.7" stroke-linejoin="miter"/>

<path d="M295.52 777.45L307.52 777.45L301.52 765.45Z" fill="none" stroke="#990022" stroke-width="1.7" stroke-linejoin="miter"/>

<path d="M309.15 792.66L321.15 792.66L315.15 780.66Z" fill="none" stroke="#990022" stroke-width="1.7" stroke-linejoin="miter"/>

<path d="M322.78 803.88L334.78 803.88L328.78 791.88Z" fill="none" stroke="#990022" stroke-width="1.7" stroke-linejoin="miter"/>

<path d="M336.41 788.2L348.41 788.2L342.41 776.2Z" fill="none" stroke="#990022" stroke-width="1.7" stroke-linejoin="miter"/>

<path d="M350.04 799.83L362.04 799.83L356.04 787.83Z" fill="none" stroke="#990022" stroke-width="1.7" stroke-linejoin="miter"/>

<path d="M363.67 795.69L375.67 795.69L369.67 783.69Z" fill="none" stroke="#990022" stroke-width="1.7" stroke-linejoin="miter"/>

<path d="M377.3 809.49L389.3 809.49L383.3 797.49Z" fill="none" stroke="#990022" stroke-width="1.7" stroke-linejoin="miter"/>

<path d="M390.93 800.35L402.93 800.35L396.93 788.35Z" fill="none" stroke="#990022" stroke-width="1.7" stroke-linejoin="miter"/>

<path d="M404.56 835.1L416.56 835.1L410.56 823.1Z" fill="none" stroke="#990022" stroke-width="1.7" stroke-linejoin="miter"/>

<path d="M418.19 813.3L430.19 813.3L424.19 801.3Z" fill="none" stroke="#990022" stroke-width="1.7" stroke-linejoin="miter"/>

<path d="M431.82 830.89L443.82 830.89L437.82 818.89Z" fill="none" stroke="#990022" stroke-width="1.7" stroke-linejoin="miter"/>

<path d="M445.45 829.34L457.45 829.34L451.45 817.34Z" fill="none" stroke="#990022" stroke-width="1.7" stroke-linejoin="miter"/>

<path d="M459.08 814.91L471.08 814.91L465.08 802.91Z" fill="none" stroke="#990022" stroke-width="1.7" stroke-linejoin="miter"/>

<path d="M472.71 837.35L484.71 837.35L478.71 825.35Z" fill="none" stroke="#990022" stroke-width="1.7" stroke-linejoin="miter"/>
<path d="M499.5 825.57V825.73M496.5 825.73H502.5" fill="none" stroke="#990022" stroke-width="1.6"/>
<path d="M493.5 825.47L505.5 825.47L499.5 813.47Z" fill="none" stroke="#990022" stroke-width="1.7" stroke-linejoin="miter"/>
<path d="M526.7 825.25V824.45M523.7 824.45H529.7M526.7 837.45V838.52M523.7 838.52H529.7" fill="none" stroke="#990022" stroke-width="1.6"/>
<path d="M520.7 837.35L532.7 837.35L526.7 825.35Z" fill="none" stroke="#990022" stroke-width="1.7" stroke-linejoin="miter"/>
<path d="M554 857.59V855.95M551 855.95H557M554 869.79V871.78M551 871.78H557" fill="none" stroke="#990022" stroke-width="1.6"/>
<path d="M548 869.69L560 869.69L554 857.69Z" fill="none" stroke="#990022" stroke-width="1.7" stroke-linejoin="miter"/>
<path d="M581.3 875.87V872.9M578.3 872.9H584.3M581.3 888.07V891.54M578.3 891.54H584.3" fill="none" stroke="#990022" stroke-width="1.6"/>
<path d="M575.3 887.97L587.3 887.97L581.3 875.97Z" fill="none" stroke="#990022" stroke-width="1.7" stroke-linejoin="miter"/>
<path d="M608.5 885.02V880.88M605.5 880.88H611.5M608.5 897.22V901.99M605.5 901.99H611.5" fill="none" stroke="#990022" stroke-width="1.6"/>
<path d="M602.5 897.12L614.5 897.12L608.5 885.12Z" fill="none" stroke="#990022" stroke-width="1.7" stroke-linejoin="miter"/>
<path d="M642.5 915.37V910.24M639.5 910.24H645.5M642.5 927.57V933.47M639.5 933.47H645.5" fill="none" stroke="#990022" stroke-width="1.6"/>
<path d="M636.5 927.47L648.5 927.47L642.5 915.47Z" fill="none" stroke="#990022" stroke-width="1.7" stroke-linejoin="miter"/>
<path d="M697 965.92V958.5M694 958.5H700M697 978.12V986.67M694 986.67H700" fill="none" stroke="#990022" stroke-width="1.6"/>
<path d="M691 978.02L703 978.02L697 966.02Z" fill="none" stroke="#990022" stroke-width="1.7" stroke-linejoin="miter"/>
<path d="M110.7 719.76L124.33 728.66L137.96 745.55L151.59 744.1L165.22 781.06L178.85 788.34L192.48 780.1L206.11 792.27L219.74 770.08L233.37 824.79L247 781.55L260.63 813.13L274.26 802.94L287.89 796.9L301.52 772.07L315.15 791.75L328.78 804.97L342.41 794.35L356.04 808.15L369.67 785.49L383.3 816.07L396.93 799.67L410.56 826.25L424.19 798.77L437.82 826.25L451.45 811.97L465.08 808.34L478.71 839.6L499.5 788.34L526.7 863.43L554 852.64L581.3 842.7L608.5 893.1L642.5 958.18L697 1039" fill="none" stroke="#0000ff" stroke-width="1.7"/>
<path d="M110.7 714.76V705.58M107.7 705.58H113.7M110.7 724.76V735.17M107.7 735.17H113.7" fill="none" stroke="#0000ff" stroke-width="1.7"/>
<path d="M105.2 725.26L116.2 725.26L110.7 714.26Z" fill="#0000ff"/>
<path d="M124.33 723.66V717.92M121.33 717.92H127.33M124.33 733.66V740.09M121.33 740.09H127.33" fill="none" stroke="#0000ff" stroke-width="1.7"/>
<path d="M118.83 734.16L129.83 734.16L124.33 723.16Z" fill="#0000ff"/>
<path d="M137.96 740.55V736.31M134.96 736.31H140.96M137.96 750.55V755.31M134.96 755.31H140.96" fill="none" stroke="#0000ff" stroke-width="1.7"/>
<path d="M132.46 751.05L143.46 751.05L137.96 740.05Z" fill="#0000ff"/>
<path d="M151.59 739.1V735.53M148.59 735.53H154.59M151.59 749.1V753.12M148.59 753.12H154.59" fill="none" stroke="#0000ff" stroke-width="1.7"/>
<path d="M146.09 749.6L157.09 749.6L151.59 738.6Z" fill="#0000ff"/>
<path d="M165.22 776.06V772.99M162.22 772.99H168.22M165.22 786.06V789.52M162.22 789.52H168.22" fill="none" stroke="#0000ff" stroke-width="1.7"/>
<path d="M159.72 786.56L170.72 786.56L165.22 775.56Z" fill="#0000ff"/>
<path d="M178.85 783.34V780.6M175.85 780.6H181.85M178.85 793.34V796.43M175.85 796.43H181.85" fill="none" stroke="#0000ff" stroke-width="1.7"/>
<path d="M173.35 793.84L184.35 793.84L178.85 782.84Z" fill="#0000ff"/>
<path d="M192.48 775.1V772.36M189.48 772.36H195.48M192.48 785.1V788.19M189.48 788.19H195.48" fill="none" stroke="#0000ff" stroke-width="1.7"/>
<path d="M186.98 785.6L197.98 785.6L192.48 774.6Z" fill="#0000ff"/>
<path d="M206.11 787.27V784.53M203.11 784.53H209.11M206.11 797.27V800.36M203.11 800.36H209.11" fill="none" stroke="#0000ff" stroke-width="1.7"/>
<path d="M200.61 797.77L211.61 797.77L206.11 786.77Z" fill="#0000ff"/>
<path d="M219.74 765.08V762.34M216.74 762.34H222.74M219.74 775.08V778.17M216.74 778.17H222.74" fill="none" stroke="#0000ff" stroke-width="1.7"/>
<path d="M214.24 775.58L225.24 775.58L219.74 764.58Z" fill="#0000ff"/>
<path d="M233.37 819.79V817.05M230.37 817.05H236.37M233.37 829.79V832.88M230.37 832.88H236.37" fill="none" stroke="#0000ff" stroke-width="1.7"/>
<path d="M227.87 830.29L238.87 830.29L233.37 819.29Z" fill="#0000ff"/>
<path d="M247 776.55V773.82M244 773.82H250M247 786.55V789.64M244 789.64H250" fill="none" stroke="#0000ff" stroke-width="1.7"/>
<path d="M241.5 787.05L252.5 787.05L247 776.05Z" fill="#0000ff"/>
<path d="M260.63 808.13V806.07M257.63 806.07H263.63M260.63 818.13V820.49M257.63 820.49H263.63" fill="none" stroke="#0000ff" stroke-width="1.7"/>
<path d="M255.13 818.63L266.13 818.63L260.63 807.63Z" fill="#0000ff"/>
<path d="M274.26 797.94V794.87M271.26 794.87H277.26M274.26 807.94V811.4M271.26 811.4H277.26" fill="none" stroke="#0000ff" stroke-width="1.7"/>
<path d="M268.76 808.44L279.76 808.44L274.26 797.44Z" fill="#0000ff"/>
<path d="M287.89 791.9V788.83M284.89 788.83H290.89M287.89 801.9V805.36M284.89 805.36H290.89" fill="none" stroke="#0000ff" stroke-width="1.7"/>
<path d="M282.39 802.4L293.39 802.4L287.89 791.4Z" fill="#0000ff"/>
<path d="M301.52 767.07V761.83M298.52 761.83H304.52M301.52 777.07V782.94M298.52 782.94H304.52" fill="none" stroke="#0000ff" stroke-width="1.7"/>
<path d="M296.02 777.57L307.02 777.57L301.52 766.57Z" fill="#0000ff"/>
<path d="M315.15 786.75V783.68M312.15 783.68H318.15M315.15 796.75V800.21M312.15 800.21H318.15" fill="none" stroke="#0000ff" stroke-width="1.7"/>
<path d="M309.65 797.25L320.65 797.25L315.15 786.25Z" fill="#0000ff"/>
<path d="M328.78 799.97V797.07M325.78 797.07H331.78M328.78 809.97V813.24M325.78 813.24H331.78" fill="none" stroke="#0000ff" stroke-width="1.7"/>
<path d="M323.28 810.47L334.28 810.47L328.78 799.47Z" fill="#0000ff"/>
<path d="M342.41 789.35V785.78M339.41 785.78H345.41M342.41 799.35V803.36M339.41 803.36H345.41" fill="none" stroke="#0000ff" stroke-width="1.7"/>
<path d="M336.91 799.85L347.91 799.85L342.41 788.85Z" fill="#0000ff"/>
<path d="M356.04 803.15V799.08M353.04 799.08H359.04M356.04 813.15V817.72M353.04 817.72H359.04" fill="none" stroke="#0000ff" stroke-width="1.7"/>
<path d="M350.54 813.65L361.54 813.65L356.04 802.65Z" fill="#0000ff"/>
<path d="M369.67 780.49V776.25M366.67 776.25H372.67M369.67 790.49V795.25M366.67 795.25H372.67" fill="none" stroke="#0000ff" stroke-width="1.7"/>
<path d="M364.17 790.99L375.17 790.99L369.67 779.99Z" fill="#0000ff"/>
<path d="M383.3 811.07V805.5M380.3 805.5H386.3M383.3 821.07V827.32M380.3 827.32H386.3" fill="none" stroke="#0000ff" stroke-width="1.7"/>
<path d="M377.8 821.57L388.8 821.57L383.3 810.57Z" fill="#0000ff"/>
<path d="M396.93 794.67V788.27M393.93 788.27H399.93M396.93 804.67V811.85M393.93 811.85H399.93" fill="none" stroke="#0000ff" stroke-width="1.7"/>
<path d="M391.43 805.17L402.43 805.17L396.93 794.17Z" fill="#0000ff"/>
<path d="M410.56 821.25V814.03M407.56 814.03H413.56M410.56 831.25V839.38M407.56 839.38H413.56" fill="none" stroke="#0000ff" stroke-width="1.7"/>
<path d="M405.06 831.75L416.06 831.75L410.56 820.75Z" fill="#0000ff"/>
<path d="M424.19 793.77V786.55M421.19 786.55H427.19M424.19 803.77V811.9M421.19 811.9H427.19" fill="none" stroke="#0000ff" stroke-width="1.7"/>
<path d="M418.69 804.27L429.69 804.27L424.19 793.27Z" fill="#0000ff"/>
<path d="M437.82 821.25V813.05M434.82 813.05H440.82M437.82 831.25V840.52M434.82 840.52H440.82" fill="none" stroke="#0000ff" stroke-width="1.7"/>
<path d="M432.32 831.75L443.32 831.75L437.82 820.75Z" fill="#0000ff"/>
<path d="M451.45 806.97V797.96M448.45 797.96H454.45M451.45 816.97V827.2M448.45 827.2H454.45" fill="none" stroke="#0000ff" stroke-width="1.7"/>
<path d="M445.95 817.47L456.95 817.47L451.45 806.47Z" fill="#0000ff"/>
<path d="M465.08 803.34V792.55M462.08 792.55H468.08M465.08 813.34V825.69M462.08 825.69H468.08" fill="none" stroke="#0000ff" stroke-width="1.7"/>
<path d="M459.58 813.84L470.58 813.84L465.08 802.84Z" fill="#0000ff"/>
<path d="M478.71 834.6V822.22M475.71 822.22H481.71M478.71 844.6V858.9M475.71 858.9H481.71" fill="none" stroke="#0000ff" stroke-width="1.7"/>
<path d="M473.21 845.1L484.21 845.1L478.71 834.1Z" fill="#0000ff"/>
<path d="M499.5 783.34V776.12M496.5 776.12H502.5M499.5 793.34V801.47M496.5 801.47H502.5" fill="none" stroke="#0000ff" stroke-width="1.7"/>
<path d="M494 793.84L505 793.84L499.5 782.84Z" fill="#0000ff"/>
<path d="M526.7 858.43V847.48M523.7 847.48H529.7M526.7 868.43V880.97M523.7 880.97H529.7" fill="none" stroke="#0000ff" stroke-width="1.7"/>
<path d="M521.2 868.93L532.2 868.93L526.7 857.93Z" fill="#0000ff"/>
<path d="M554 847.64V834.3M551 834.3H557M554 857.64V873.11M551 873.11H557" fill="none" stroke="#0000ff" stroke-width="1.7"/>
<path d="M548.5 858.14L559.5 858.14L554 847.14Z" fill="#0000ff"/>
<path d="M581.3 837.7V822.79M578.3 822.79H584.3M581.3 847.7V865.16M578.3 865.16H584.3" fill="none" stroke="#0000ff" stroke-width="1.7"/>
<path d="M575.8 848.2L586.8 848.2L581.3 837.2Z" fill="#0000ff"/>
<path d="M608.5 888.1V867.78M605.5 867.78H611.5M608.5 898.1V922.69M605.5 922.69H611.5" fill="none" stroke="#0000ff" stroke-width="1.7"/>
<path d="M603 898.6L614 898.6L608.5 887.6Z" fill="#0000ff"/>

<path d="M637 963.68L648 963.68L642.5 952.68Z" fill="#0000ff"/>

<path d="M691.5 1044.5L702.5 1044.5L697 1033.5Z" fill="#0000ff"/>
<path d="M110.7 375.26L124.33 425.64L137.96 493.24L151.59 548.69L165.22 631.6L178.85 691.63L192.48 723.1L206.11 781.06L219.74 812.94L233.37 884.69L247 895.72L260.63 949.52L274.26 969.64L287.89 1018.26" fill="none" stroke="#ff0000" stroke-width="1.8" stroke-dasharray="1.7 2.0"/>
<path d="M110.7 369.36L115 375.26L110.7 381.16L106.4 375.26Z" fill="#ff0000"/>
<path d="M124.33 419.74L128.63 425.64L124.33 431.54L120.03 425.64Z" fill="#ff0000"/>
<path d="M137.96 487.34L142.26 493.24L137.96 499.14L133.66 493.24Z" fill="#ff0000"/>
<path d="M151.59 542.79L155.89 548.69L151.59 554.59L147.29 548.69Z" fill="#ff0000"/>
<path d="M165.22 625.7L169.52 631.6L165.22 637.5L160.92 631.6Z" fill="#ff0000"/>
<path d="M178.85 685.73L183.15 691.63L178.85 697.53L174.55 691.63Z" fill="#ff0000"/>
<path d="M192.48 717.2L196.78 723.1L192.48 729L188.18 723.1Z" fill="#ff0000"/>
<path d="M206.11 775.16L210.41 781.06L206.11 786.96L201.81 781.06Z" fill="#ff0000"/>
<path d="M219.74 807.04L224.04 812.94L219.74 818.84L215.44 812.94Z" fill="#ff0000"/>
<path d="M233.37 878.79L237.67 884.69L233.37 890.59L229.07 884.69Z" fill="#ff0000"/>
<path d="M247 889.82L251.3 895.72L247 901.62L242.7 895.72Z" fill="#ff0000"/>
<path d="M260.63 943.62L264.93 949.52L260.63 955.42L256.33 949.52Z" fill="#ff0000"/>
<path d="M274.26 963.74L278.56 969.64L274.26 975.54L269.96 969.64Z" fill="#ff0000"/>
<path d="M287.89 1012.36L292.19 1018.26L287.89 1024.16L283.59 1018.26Z" fill="#ff0000"/>
<path d="M301.52 1012.36L305.82 1018.26L301.52 1024.16L297.22 1018.26Z" fill="#ff0000"/>
<path d="M315.15 1038.95L319.45 1044.85L315.15 1050.75L310.85 1044.85Z" fill="#ff0000"/>
<path d="M328.78 1094.61L333.08 1100.51L328.78 1106.41L324.48 1100.51Z" fill="#ff0000"/>
<path d="M342.41 1084.3L346.71 1090.2L342.41 1096.1L338.11 1090.2Z" fill="#ff0000"/>
<path d="M356.04 1142.02L360.34 1147.92L356.04 1153.82L351.74 1147.92Z" fill="#ff0000"/>
<path d="M369.67 1149.89L373.97 1155.79L369.67 1161.69L365.37 1155.79Z" fill="#ff0000"/>
<path d="M383.3 1158.63L387.6 1164.53L383.3 1170.43L379 1164.53Z" fill="#ff0000"/>
<path d="M396.93 1177.61L401.23 1183.51L396.93 1189.41L392.63 1183.51Z" fill="#ff0000"/>
<path d="M410.56 1198.64L414.86 1204.54L410.56 1210.44L406.26 1204.54Z" fill="#ff0000"/>
<path d="M424.19 1223.69L428.49 1229.59L424.19 1235.49L419.89 1229.59Z" fill="#ff0000"/>
<path d="M437.82 1275.78L442.12 1281.68L437.82 1287.58L433.52 1281.68Z" fill="#ff0000"/>
<path d="M451.45 1273.37L455.75 1279.27L451.45 1285.17L447.15 1279.27Z" fill="#ff0000"/>
<path d="M465.08 1315.91L469.38 1321.81L465.08 1327.71L460.78 1321.81Z" fill="#ff0000"/>
<path d="M478.71 1315.91L483.01 1321.81L478.71 1327.71L474.41 1321.81Z" fill="#ff0000"/>
<path d="M499.5 1315.91L503.8 1321.81L499.5 1327.71L495.2 1321.81Z" fill="#ff0000"/>
<path d="M526.7 1315.91L531 1321.81L526.7 1327.71L522.4 1321.81Z" fill="#ff0000"/>
<path d="M554 1315.91L558.3 1321.81L554 1327.71L549.7 1321.81Z" fill="#ff0000"/>
<path d="M581.3 1315.91L585.6 1321.81L581.3 1327.71L577 1321.81Z" fill="#ff0000"/>
<path d="M608.5 1315.91L612.8 1321.81L608.5 1327.71L604.2 1321.81Z" fill="#ff0000"/>
<path d="M642.5 1315.91L646.8 1321.81L642.5 1327.71L638.2 1321.81Z" fill="#ff0000"/>
<path d="M697 1315.91L701.3 1321.81L697 1327.71L692.7 1321.81Z" fill="#ff0000"/>
</g>
<path d="M91 955.5L100.5 955.5" stroke="#000" stroke-width="1" fill="none"/>
<path d="M742 955.5L732.5 955.5" stroke="#000" stroke-width="1" fill="none"/>
<path d="M91 916.5L105.5 916.5" stroke="#000" stroke-width="1" fill="none"/>
<path d="M742 916.5L727.5 916.5" stroke="#000" stroke-width="1" fill="none"/>
<path d="M91 884.5L100.5 884.5" stroke="#000" stroke-width="1" fill="none"/>
<path d="M742 884.5L732.5 884.5" stroke="#000" stroke-width="1" fill="none"/>
<path d="M91 857.5L100.5 857.5" stroke="#000" stroke-width="1" fill="none"/>
<path d="M742 857.5L732.5 857.5" stroke="#000" stroke-width="1" fill="none"/>
<path d="M91 834.5L100.5 834.5" stroke="#000" stroke-width="1" fill="none"/>
<path d="M742 834.5L732.5 834.5" stroke="#000" stroke-width="1" fill="none"/>
<path d="M91 813.5L100.5 813.5" stroke="#000" stroke-width="1" fill="none"/>
<path d="M742 813.5L732.5 813.5" stroke="#000" stroke-width="1" fill="none"/>
<path d="M91 795.5L105.5 795.5" stroke="#000" stroke-width="1" fill="none"/>
<path d="M742 795.5L727.5 795.5" stroke="#000" stroke-width="1" fill="none"/>
<path d="M91 778.5L100.5 778.5" stroke="#000" stroke-width="1" fill="none"/>
<path d="M742 778.5L732.5 778.5" stroke="#000" stroke-width="1" fill="none"/>
<path d="M91 763.5L100.5 763.5" stroke="#000" stroke-width="1" fill="none"/>
<path d="M742 763.5L732.5 763.5" stroke="#000" stroke-width="1" fill="none"/>
<path d="M91 749.5L100.5 749.5" stroke="#000" stroke-width="1" fill="none"/>
<path d="M742 749.5L732.5 749.5" stroke="#000" stroke-width="1" fill="none"/>
<path d="M91 736.5L100.5 736.5" stroke="#000" stroke-width="1" fill="none"/>
<path d="M742 736.5L732.5 736.5" stroke="#000" stroke-width="1" fill="none"/>
<path d="M91 724.5L105.5 724.5" stroke="#000" stroke-width="1" fill="none"/>
<path d="M742 724.5L727.5 724.5" stroke="#000" stroke-width="1" fill="none"/>
<path d="M91 712.5L100.5 712.5" stroke="#000" stroke-width="1" fill="none"/>
<path d="M742 712.5L732.5 712.5" stroke="#000" stroke-width="1" fill="none"/>
<path d="M91 702.5L100.5 702.5" stroke="#000" stroke-width="1" fill="none"/>
<path d="M742 702.5L732.5 702.5" stroke="#000" stroke-width="1" fill="none"/>
<path d="M91 692.5L100.5 692.5" stroke="#000" stroke-width="1" fill="none"/>
<path d="M742 692.5L732.5 692.5" stroke="#000" stroke-width="1" fill="none"/>
<path d="M91 682.5L100.5 682.5" stroke="#000" stroke-width="1" fill="none"/>
<path d="M742 682.5L732.5 682.5" stroke="#000" stroke-width="1" fill="none"/>
<path d="M91 673.5L105.5 673.5" stroke="#000" stroke-width="1" fill="none"/>
<path d="M742 673.5L727.5 673.5" stroke="#000" stroke-width="1" fill="none"/>
<path d="M91 665.5L100.5 665.5" stroke="#000" stroke-width="1" fill="none"/>
<path d="M742 665.5L732.5 665.5" stroke="#000" stroke-width="1" fill="none"/>
<path d="M91 657.5L100.5 657.5" stroke="#000" stroke-width="1" fill="none"/>
<path d="M742 657.5L732.5 657.5" stroke="#000" stroke-width="1" fill="none"/>
<path d="M91 649.5L100.5 649.5" stroke="#000" stroke-width="1" fill="none"/>
<path d="M742 649.5L732.5 649.5" stroke="#000" stroke-width="1" fill="none"/>
<path d="M91 641.5L100.5 641.5" stroke="#000" stroke-width="1" fill="none"/>
<path d="M742 641.5L732.5 641.5" stroke="#000" stroke-width="1" fill="none"/>
<path d="M91 634.5L105.5 634.5" stroke="#000" stroke-width="1" fill="none"/>
<path d="M742 634.5L727.5 634.5" stroke="#000" stroke-width="1" fill="none"/>
<path d="M96.5 634.8L96.5 638.2" stroke="#000" stroke-width="1" fill="none"/>
<path d="M96.5 955.8L96.5 952.4" stroke="#000" stroke-width="1" fill="none"/>
<path d="M111 634.8L111 645.1" stroke="#000" stroke-width="1.8" fill="none"/>
<path d="M111 955.8L111 945.5" stroke="#000" stroke-width="1.8" fill="none"/>
<path d="M124.5 634.8L124.5 638.2" stroke="#000" stroke-width="1" fill="none"/>
<path d="M124.5 955.8L124.5 952.4" stroke="#000" stroke-width="1" fill="none"/>
<path d="M139.5 634.8L139.5 640.5" stroke="#000" stroke-width="1" fill="none"/>
<path d="M139.5 955.8L139.5 950.1" stroke="#000" stroke-width="1" fill="none"/>
<path d="M153.5 634.8L153.5 638.2" stroke="#000" stroke-width="1" fill="none"/>
<path d="M153.5 955.8L153.5 952.4" stroke="#000" stroke-width="1" fill="none"/>
<path d="M167.5 634.8L167.5 640.5" stroke="#000" stroke-width="1" fill="none"/>
<path d="M167.5 955.8L167.5 950.1" stroke="#000" stroke-width="1" fill="none"/>
<path d="M181.5 634.8L181.5 638.2" stroke="#000" stroke-width="1" fill="none"/>
<path d="M181.5 955.8L181.5 952.4" stroke="#000" stroke-width="1" fill="none"/>
<path d="M196.5 634.8L196.5 640.5" stroke="#000" stroke-width="1" fill="none"/>
<path d="M196.5 955.8L196.5 950.1" stroke="#000" stroke-width="1" fill="none"/>
<path d="M210.5 634.8L210.5 638.2" stroke="#000" stroke-width="1" fill="none"/>
<path d="M210.5 955.8L210.5 952.4" stroke="#000" stroke-width="1" fill="none"/>
<path d="M224.5 634.8L224.5 640.5" stroke="#000" stroke-width="1" fill="none"/>
<path d="M224.5 955.8L224.5 950.1" stroke="#000" stroke-width="1" fill="none"/>
<path d="M238.5 634.8L238.5 638.2" stroke="#000" stroke-width="1" fill="none"/>
<path d="M238.5 955.8L238.5 952.4" stroke="#000" stroke-width="1" fill="none"/>
<path d="M253 634.8L253 645.1" stroke="#000" stroke-width="1.8" fill="none"/>
<path d="M253 955.8L253 945.5" stroke="#000" stroke-width="1.8" fill="none"/>
<path d="M267.5 634.8L267.5 638.2" stroke="#000" stroke-width="1" fill="none"/>
<path d="M267.5 955.8L267.5 952.4" stroke="#000" stroke-width="1" fill="none"/>
<path d="M281.5 634.8L281.5 640.5" stroke="#000" stroke-width="1" fill="none"/>
<path d="M281.5 955.8L281.5 950.1" stroke="#000" stroke-width="1" fill="none"/>
<path d="M295.5 634.8L295.5 638.2" stroke="#000" stroke-width="1" fill="none"/>
<path d="M295.5 955.8L295.5 952.4" stroke="#000" stroke-width="1" fill="none"/>
<path d="M310.5 634.8L310.5 640.5" stroke="#000" stroke-width="1" fill="none"/>
<path d="M310.5 955.8L310.5 950.1" stroke="#000" stroke-width="1" fill="none"/>
<path d="M324.5 634.8L324.5 638.2" stroke="#000" stroke-width="1" fill="none"/>
<path d="M324.5 955.8L324.5 952.4" stroke="#000" stroke-width="1" fill="none"/>
<path d="M338.5 634.8L338.5 640.5" stroke="#000" stroke-width="1" fill="none"/>
<path d="M338.5 955.8L338.5 950.1" stroke="#000" stroke-width="1" fill="none"/>
<path d="M353.5 634.8L353.5 638.2" stroke="#000" stroke-width="1" fill="none"/>
<path d="M353.5 955.8L353.5 952.4" stroke="#000" stroke-width="1" fill="none"/>
<path d="M367.5 634.8L367.5 640.5" stroke="#000" stroke-width="1" fill="none"/>
<path d="M367.5 955.8L367.5 950.1" stroke="#000" stroke-width="1" fill="none"/>
<path d="M381.5 634.8L381.5 638.2" stroke="#000" stroke-width="1" fill="none"/>
<path d="M381.5 955.8L381.5 952.4" stroke="#000" stroke-width="1" fill="none"/>
<path d="M396 634.8L396 645.1" stroke="#000" stroke-width="1.8" fill="none"/>
<path d="M396 955.8L396 945.5" stroke="#000" stroke-width="1.8" fill="none"/>
<path d="M410.5 634.8L410.5 638.2" stroke="#000" stroke-width="1" fill="none"/>
<path d="M410.5 955.8L410.5 952.4" stroke="#000" stroke-width="1" fill="none"/>
<path d="M424.5 634.8L424.5 640.5" stroke="#000" stroke-width="1" fill="none"/>
<path d="M424.5 955.8L424.5 950.1" stroke="#000" stroke-width="1" fill="none"/>
<path d="M438.5 634.8L438.5 638.2" stroke="#000" stroke-width="1" fill="none"/>
<path d="M438.5 955.8L438.5 952.4" stroke="#000" stroke-width="1" fill="none"/>
<path d="M452.5 634.8L452.5 640.5" stroke="#000" stroke-width="1" fill="none"/>
<path d="M452.5 955.8L452.5 950.1" stroke="#000" stroke-width="1" fill="none"/>
<path d="M467.5 634.8L467.5 638.2" stroke="#000" stroke-width="1" fill="none"/>
<path d="M467.5 955.8L467.5 952.4" stroke="#000" stroke-width="1" fill="none"/>
<path d="M481.5 634.8L481.5 640.5" stroke="#000" stroke-width="1" fill="none"/>
<path d="M481.5 955.8L481.5 950.1" stroke="#000" stroke-width="1" fill="none"/>
<path d="M495.5 634.8L495.5 638.2" stroke="#000" stroke-width="1" fill="none"/>
<path d="M495.5 955.8L495.5 952.4" stroke="#000" stroke-width="1" fill="none"/>
<path d="M509.5 634.8L509.5 640.5" stroke="#000" stroke-width="1" fill="none"/>
<path d="M509.5 955.8L509.5 950.1" stroke="#000" stroke-width="1" fill="none"/>
<path d="M524.5 634.8L524.5 638.2" stroke="#000" stroke-width="1" fill="none"/>
<path d="M524.5 955.8L524.5 952.4" stroke="#000" stroke-width="1" fill="none"/>
<path d="M538 634.8L538 645.1" stroke="#000" stroke-width="1.8" fill="none"/>
<path d="M538 955.8L538 945.5" stroke="#000" stroke-width="1.8" fill="none"/>
<path d="M552.5 634.8L552.5 638.2" stroke="#000" stroke-width="1" fill="none"/>
<path d="M552.5 955.8L552.5 952.4" stroke="#000" stroke-width="1" fill="none"/>
<path d="M566.5 634.8L566.5 640.5" stroke="#000" stroke-width="1" fill="none"/>
<path d="M566.5 955.8L566.5 950.1" stroke="#000" stroke-width="1" fill="none"/>
<path d="M581.5 634.8L581.5 638.2" stroke="#000" stroke-width="1" fill="none"/>
<path d="M581.5 955.8L581.5 952.4" stroke="#000" stroke-width="1" fill="none"/>
<path d="M595.5 634.8L595.5 640.5" stroke="#000" stroke-width="1" fill="none"/>
<path d="M595.5 955.8L595.5 950.1" stroke="#000" stroke-width="1" fill="none"/>
<path d="M609.5 634.8L609.5 638.2" stroke="#000" stroke-width="1" fill="none"/>
<path d="M609.5 955.8L609.5 952.4" stroke="#000" stroke-width="1" fill="none"/>
<path d="M623.5 634.8L623.5 640.5" stroke="#000" stroke-width="1" fill="none"/>
<path d="M623.5 955.8L623.5 950.1" stroke="#000" stroke-width="1" fill="none"/>
<path d="M638.5 634.8L638.5 638.2" stroke="#000" stroke-width="1" fill="none"/>
<path d="M638.5 955.8L638.5 952.4" stroke="#000" stroke-width="1" fill="none"/>
<path d="M652.5 634.8L652.5 640.5" stroke="#000" stroke-width="1" fill="none"/>
<path d="M652.5 955.8L652.5 950.1" stroke="#000" stroke-width="1" fill="none"/>
<path d="M666.5 634.8L666.5 638.2" stroke="#000" stroke-width="1" fill="none"/>
<path d="M666.5 955.8L666.5 952.4" stroke="#000" stroke-width="1" fill="none"/>
<path d="M681 634.8L681 645.1" stroke="#000" stroke-width="1.8" fill="none"/>
<path d="M681 955.8L681 945.5" stroke="#000" stroke-width="1.8" fill="none"/>
<path d="M695.5 634.8L695.5 638.2" stroke="#000" stroke-width="1" fill="none"/>
<path d="M695.5 955.8L695.5 952.4" stroke="#000" stroke-width="1" fill="none"/>
<path d="M709.5 634.8L709.5 640.5" stroke="#000" stroke-width="1" fill="none"/>
<path d="M709.5 955.8L709.5 950.1" stroke="#000" stroke-width="1" fill="none"/>
<path d="M723.5 634.8L723.5 638.2" stroke="#000" stroke-width="1" fill="none"/>
<path d="M723.5 955.8L723.5 952.4" stroke="#000" stroke-width="1" fill="none"/>
<path d="M737.5 634.8L737.5 640.5" stroke="#000" stroke-width="1" fill="none"/>
<path d="M737.5 955.8L737.5 950.1" stroke="#000" stroke-width="1" fill="none"/>
<rect x="91.0" y="35.0" width="651.0" height="599.8" fill="none" stroke="#000" stroke-width="2"/>
<rect x="91.0" y="634.8" width="651.0" height="321.0" fill="none" stroke="#000" stroke-width="2"/>
<text transform="translate(103.3 29) scale(1 1.06)" font-size="24.35">13000 GeV pp</text>
<text transform="translate(731.3 29) scale(1 1.06)" font-size="24.4" text-anchor="end">Z+Jet</text>
<text transform="translate(271.6 87) scale(1 1.06)" font-size="24.4">Nch</text>
<text transform="translate(319.3 87) scale(1 1.06)" font-size="20.1">(ATLAS UE in Z production)</text>
<text transform="translate(186.9 129.7) scale(1 1.06)" font-size="19.05">ATLAS</text>
<text transform="translate(186.9 156.4) scale(1 1.06)" font-size="19.05">Herwig 7.2.1 default</text>
<text transform="translate(186.9 183) scale(1 1.06)" font-size="19.05">Pythia 6.428 370</text>
<text transform="translate(186.9 208.9) scale(1 1.06)" font-size="19.05">Pythia 8.170 default</text>
<text transform="translate(186.9 234.5) scale(1 1.06)" font-size="19.05">Sherpa 2.2.9 default</text>
<rect x="147.75" y="119.05" width="10.5" height="10.5" fill="#000"/>
<path d="M128.6 150.4L177 150.4" fill="none" stroke="#2f9400" stroke-width="1.7" stroke-dasharray="3.6 2.7"/>
<rect x="148.1" y="145.5" width="9.8" height="9.8" fill="none" stroke="#2f9400" stroke-width="1.8"/>
<path d="M128.6 176.6L177 176.6" fill="none" stroke="#990022" stroke-width="1.7"/>
<path d="M147 182.6L159 182.6L153 170.6Z" fill="none" stroke="#990022" stroke-width="1.7" stroke-linejoin="miter"/>
<path d="M128.6 202.6L177 202.6" fill="none" stroke="#0000ff" stroke-width="1.7"/>
<path d="M147.5 208.1L158.5 208.1L153 197.1Z" fill="#0000ff"/>
<path d="M128.6 228.5L177 228.5" fill="none" stroke="#ff0000" stroke-width="1.8" stroke-dasharray="1.7 2.0"/>
<path d="M153 222.6L157.3 228.5L153 234.4L148.7 228.5Z" fill="#ff0000"/>
<g clip-path="url(#c0)">
<text transform="translate(82.2 643.8) scale(1 1.06)" font-size="22" text-anchor="end">0</text>
<text transform="translate(82.2 558.4) scale(1 1.06)" font-size="22" text-anchor="end">0.5</text>
<text transform="translate(82.2 473) scale(1 1.06)" font-size="22" text-anchor="end">1</text>
<text transform="translate(82.2 387.6) scale(1 1.06)" font-size="22" text-anchor="end">1.5</text>
<text transform="translate(82.2 302.2) scale(1 1.06)" font-size="22" text-anchor="end">2</text>
<text transform="translate(82.2 216.8) scale(1 1.06)" font-size="22" text-anchor="end">2.5</text>
<text transform="translate(82.2 131.4) scale(1 1.06)" font-size="22" text-anchor="end">3</text>
<text transform="translate(82.2 46) scale(1 1.06)" font-size="22" text-anchor="end">3.5</text>
</g>
<text transform="translate(77.3 683.2) scale(1 1.06)" font-size="22" text-anchor="end">2</text>
<text transform="translate(747.6 683.2) scale(1 1.06)" font-size="22">2</text>
<text transform="translate(77.3 804.6) scale(1 1.06)" font-size="22" text-anchor="end">1</text>
<text transform="translate(747.6 804.6) scale(1 1.06)" font-size="22">1</text>
<text transform="translate(77.3 926) scale(1 1.06)" font-size="22" text-anchor="end">0.5</text>
<text transform="translate(747.6 926) scale(1 1.06)" font-size="22">0.5</text>
<text transform="translate(111.2 978.6) scale(1 1.06)" font-size="22" text-anchor="middle">0</text>
<text transform="translate(255.03 978.6) scale(1 1.06)" font-size="22" text-anchor="middle">1</text>
<text transform="translate(396.26 978.6) scale(1 1.06)" font-size="22" text-anchor="middle">2</text>
<text transform="translate(538.79 978.6) scale(1 1.06)" font-size="22" text-anchor="middle">3</text>
<text transform="translate(681.32 978.6) scale(1 1.06)" font-size="22" text-anchor="middle">4</text>
<text transform="translate(642.1 1004.8) scale(1 1.06)" font-size="24.0">N</text>
<text transform="translate(659 1012.3) scale(1 1.06)" font-size="16.6">ch</text>
<text transform="translate(676.7 1004.8) scale(1 1.06)" font-size="24.0">/d</text>
<text transform="translate(696 1004.8) scale(1 1)" font-size="26.400000000000002" font-family="Liberation Serif, serif">η</text>
<text transform="translate(718 1004.8) scale(1 1.06)" font-size="24.0">d</text>
<text transform="translate(729.6 1004.8) scale(1 1)" font-size="25.200000000000003" font-family="Liberation Serif, serif">ϕ</text>
<text transform="translate(31 260.4) rotate(-90) scale(1 1.06)" font-size="24.0">1/N</text>
<text transform="translate(37.1 223.8) rotate(-90) scale(1 1.06)" font-size="16.0">ev</text>
<text transform="translate(31 200.6) rotate(-90) scale(1 1.06)" font-size="24.0">dN</text>
<text transform="translate(37.1 170.8) rotate(-90) scale(1 1.06)" font-size="16.0">ev</text>
<text transform="translate(31 154.2) rotate(-90) scale(1 1.06)" font-size="24.0">/dN</text>
<text transform="translate(37.1 116.1) rotate(-90) scale(1 1.06)" font-size="16.0">ch</text>
<text transform="translate(31 100.5) rotate(-90) scale(1 1.06)" font-size="24.0">/d</text>
<text transform="translate(31 80.2) rotate(-90) scale(1 1)" font-size="26.400000000000002" font-family="Liberation Serif, serif">η</text>
<text transform="translate(31 60.1) rotate(-90) scale(1 1.06)" font-size="24.0">d</text>
<text transform="translate(31 47.4) rotate(-90) scale(1 1)" font-size="23.28" font-family="Liberation Serif, serif">ϕ</text>
<text transform="translate(36.8 856.8) rotate(-90) scale(1 1.0)" font-size="18.5">Ratio to ATLAS</text>
<text transform="translate(760.6 266.6) rotate(-90) scale(1 1.06)" font-size="18.95" fill="#808080">Rivet 3.1.10, ≥ 400k events</text>
<text transform="translate(761.6 630.6) rotate(-90) scale(1 1.06)" font-size="19.17" fill="#808080">mcplots.cern.ch [arXiv:1306.3436]</text>
</g>
</svg>
</body></html>
